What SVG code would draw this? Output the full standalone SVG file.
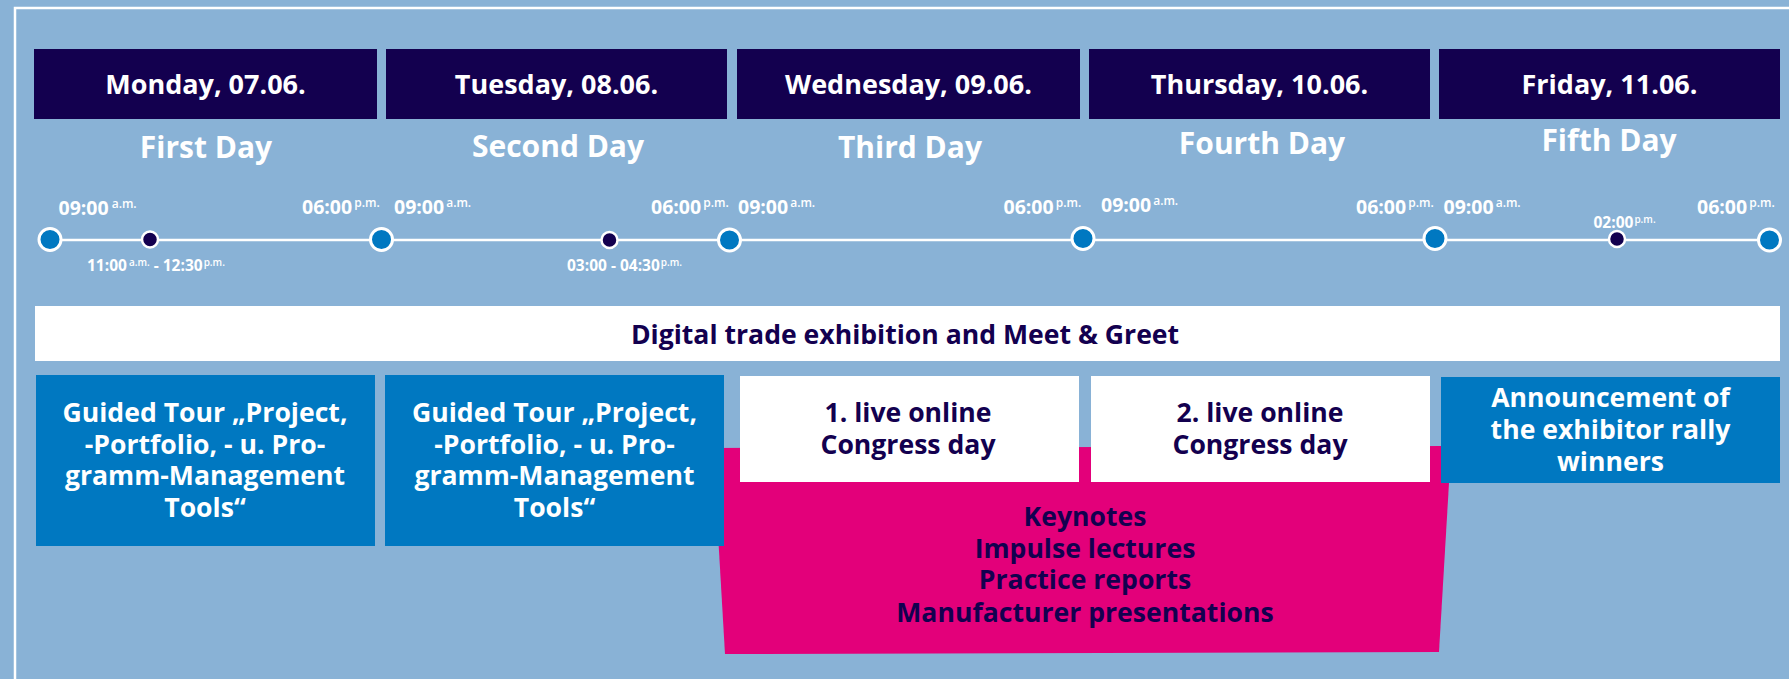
<svg xmlns="http://www.w3.org/2000/svg" width="1789" height="679" viewBox="0 0 1789 679">
<style>
text{font-family:"Open Sans","Noto Sans","DejaVu Sans",sans-serif;font-weight:700}
.hdr{fill:#13004f}
.hdrt{fill:#fff;font-size:27px;text-anchor:middle}
.day{fill:#fff;font-size:30px;text-anchor:middle}
.big{fill:#0078c1;stroke:#fff;stroke-width:3}
.small{fill:#13004f;stroke:#fff;stroke-width:2.5}
.tl{fill:#fff;font-size:19.5px}
.sup{font-size:12px;font-weight:600}
.tls{fill:#fff;font-size:15.5px}
.sups{font-size:10px;font-weight:600}
.blue{fill:#0078c1}
.white{fill:#fff}
.wt{fill:#fff;font-size:26.6px;text-anchor:middle}
.nt{fill:#13004f;font-size:26.6px;text-anchor:middle}
</style>
<rect x="0" y="0" width="1789" height="679" fill="#89b2d6"/>
<rect x="15" y="8" width="1800" height="700" fill="none" stroke="#fff" stroke-width="2.5"/>

<g id="headers">
<g id="h-mon"><rect class="hdr" x="34" y="49" width="343" height="70"/><text class="hdrt" x="205.5" y="94">Monday, 07.06.</text></g>
<g id="h-tue"><rect class="hdr" x="386" y="49" width="341" height="70"/><text class="hdrt" x="556.5" y="94">Tuesday, 08.06.</text></g>
<g id="h-wed"><rect class="hdr" x="737" y="49" width="343" height="70"/><text class="hdrt" x="908.5" y="94">Wednesday, 09.06.</text></g>
<g id="h-thu"><rect class="hdr" x="1089" y="49" width="341" height="70"/><text class="hdrt" x="1259.5" y="94">Thursday, 10.06.</text></g>
<g id="h-fri"><rect class="hdr" x="1439" y="49" width="341" height="70"/><text class="hdrt" x="1609.5" y="94">Friday, 11.06.</text></g>
</g>

<g id="day-labels">
<text id="d1" class="day" x="206" y="158">First Day</text>
<text id="d2" class="day" x="558" y="156.5">Second Day</text>
<text id="d3" class="day" x="910" y="158">Third Day</text>
<text id="d4" class="day" x="1262" y="153.5">Fourth Day</text>
<text id="d5" class="day" x="1609" y="151">Fifth Day</text>
</g>

<g id="connectors">
<line x1="50" y1="240" x2="1770" y2="240" stroke="#fff" stroke-width="2.5"/>
</g>

<g id="timeline-points">
<circle id="p1" class="big" cx="50" cy="239.5" r="11"/>
<circle id="p2" class="small" cx="150" cy="239.5" r="8"/>
<circle id="p3" class="big" cx="381.5" cy="239.5" r="11"/>
<circle id="p4" class="small" cx="609.5" cy="240" r="8"/>
<circle id="p5" class="big" cx="729.5" cy="240" r="11"/>
<circle id="p6" class="big" cx="1083" cy="238.5" r="11"/>
<circle id="p7" class="big" cx="1435" cy="238.5" r="11"/>
<circle id="p8" class="small" cx="1617" cy="239" r="8"/>
<circle id="p9" class="big" cx="1769.5" cy="240" r="11"/>
</g>

<g id="time-labels">
<text class="tl" x="58.5" y="215">09:00<tspan class="sup" dx="3" dy="-7">a.m.</tspan></text>
<text class="tl" x="302" y="214">06:00<tspan class="sup" dx="2" dy="-7">p.m.</tspan></text>
<text class="tl" x="394" y="214">09:00<tspan class="sup" dx="2" dy="-7">a.m.</tspan></text>
<text class="tl" x="651" y="214">06:00<tspan class="sup" dx="2" dy="-7">p.m.</tspan></text>
<text class="tl" x="738" y="214">09:00<tspan class="sup" dx="2" dy="-7">a.m.</tspan></text>
<text class="tl" x="1003.5" y="214">06:00<tspan class="sup" dx="2" dy="-7">p.m.</tspan></text>
<text class="tl" x="1101" y="212">09:00<tspan class="sup" dx="2" dy="-7">a.m.</tspan></text>
<text class="tl" x="1356" y="214">06:00<tspan class="sup" dx="2" dy="-7">p.m.</tspan></text>
<text class="tl" x="1443.5" y="214">09:00<tspan class="sup" dx="2" dy="-7">a.m.</tspan></text>
<text class="tl" x="1697" y="214">06:00<tspan class="sup" dx="2" dy="-7">p.m.</tspan></text>
<text class="tls" x="1593.5" y="227.5">02:00<tspan class="sups" dx="1" dy="-5">p.m.</tspan></text>
<text class="tls" x="87" y="271">11:00<tspan class="sups" dx="2" dy="-5.5">a.m.</tspan><tspan dy="5.5"> - 12:30</tspan><tspan class="sups" dx="1" dy="-5.5">p.m.</tspan></text>
<text class="tls" x="567" y="271">03:00 - 04:30<tspan class="sups" dx="1" dy="-5.5">p.m.</tspan></text>
</g>

<g id="banner">
<rect class="white" x="35" y="306" width="1745" height="55"/>
<text class="nt" x="905" y="344">Digital trade exhibition and Meet &amp; Greet</text>
</g>

<g id="congress-block">
<polygon points="713,448 1449,446 1449,483 1439,652 725,654" fill="#e3007a"/>
<text class="nt"><tspan x="1085" y="526">Keynotes</tspan><tspan x="1085" y="557.7">Impulse lectures</tspan><tspan x="1085" y="589.3">Practice reports</tspan><tspan x="1085" y="621.5">Manufacturer presentations</tspan></text>
</g>

<g id="tour1">
<rect class="blue" x="36" y="375" width="339" height="171"/>
<text class="wt"><tspan x="205" y="421.7">Guided Tour „Project,</tspan><tspan x="205" y="453.5">-Portfolio, - u. Pro-</tspan><tspan x="205" y="485.3">gramm-Management</tspan><tspan x="205" y="517.3">Tools“</tspan></text>
</g>

<g id="tour2">
<rect class="blue" x="385" y="375" width="339" height="171"/>
<text class="wt"><tspan x="554.5" y="421.7">Guided Tour „Project,</tspan><tspan x="554.5" y="453.5">-Portfolio, - u. Pro-</tspan><tspan x="554.5" y="485.3">gramm-Management</tspan><tspan x="554.5" y="517.3">Tools“</tspan></text>
</g>

<g id="congress1">
<rect class="white" x="740" y="376" width="339" height="106"/>
<text class="nt"><tspan x="908" y="422.3">1. live online</tspan><tspan x="908" y="454">Congress day</tspan></text>
</g>

<g id="congress2">
<rect class="white" x="1091" y="376" width="339" height="106"/>
<text class="nt"><tspan x="1260" y="422.3">2. live online</tspan><tspan x="1260" y="454">Congress day</tspan></text>
</g>

<g id="announcement">
<rect class="blue" x="1441" y="377" width="339" height="106"/>
<text class="wt"><tspan x="1610.5" y="407.3">Announcement of</tspan><tspan x="1610.5" y="439">the exhibitor rally</tspan><tspan x="1610.5" y="471">winners</tspan></text>
</g>
</svg>
